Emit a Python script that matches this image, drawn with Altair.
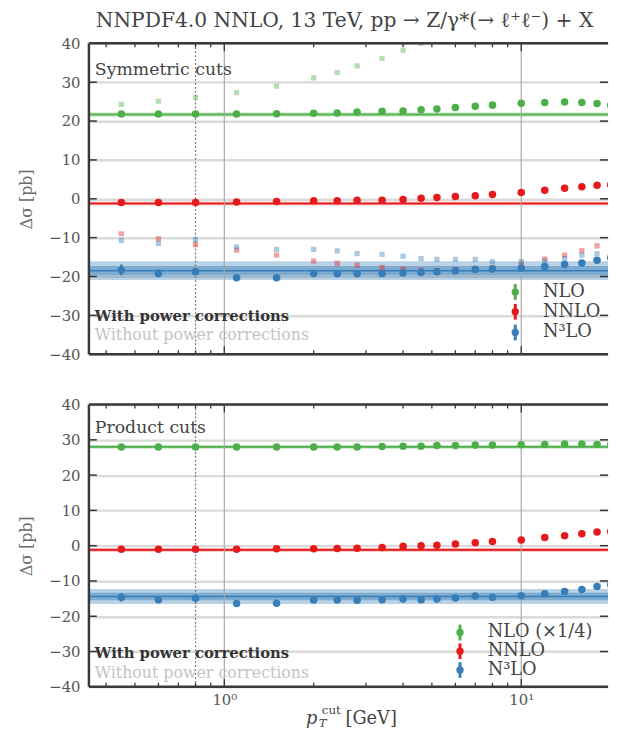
import altair as alt
import pandas as pd

# ---------------- data ----------------
PT = [0.45, 0.6, 0.8, 1.1, 1.5, 2, 2.4, 2.8, 3.4, 4, 4.6, 5.2, 6, 7, 8, 10, 12, 14, 16, 18, 20]

# Symmetric cuts (top panel), with power corrections
SYM_NLO = [21.8, 21.8, 21.8, 21.8, 21.9, 22.0, 22.1, 22.3, 22.5, 22.6, 22.9, 23.1, 23.5, 23.8, 24.1, 24.6, 24.8, 24.9, 24.8, 24.5, 24.1]
SYM_NNLO = [-0.95, -0.95, -0.95, -0.85, -0.7, -0.5, -0.5, -0.4, -0.35, -0.2, 0.15, 0.3, 0.6, 0.8, 1.1, 1.6, 2.2, 2.7, 3.1, 3.5, 3.6]
SYM_N3LO = [-18.3, -19.2, -18.8, -20.3, -20.3, -19.2, -19.3, -19.3, -19.2, -19.1, -19.0, -18.8, -18.5, -18.2, -18.1, -17.9, -17.4, -16.9, -16.5, -15.8, -15.2]
SYM_N3LO_ERR = [1.4, 1.0, 0.8, 0.6, 0.6, 0.5, 0.5, 0.5, 0.5, 0.5, 0.5, 0.5, 0.5, 0.5, 0.5, 0.6, 0.6, 0.7, 0.7, 0.8, 0.8]
# without power corrections
SYM_NLO_NOPC = [24.3, 25.1, 26.1, 27.3, 29.0, 31.1, 32.5, 34.2, 36.1, 38.2, 40.0]
SYM_NNLO_NOPC = [-9.0, -10.3, -11.8, -13.2, -14.5, -16.0, -16.6, -17.1, -17.7, -18.1, -18.4, -18.5, -18.2, -17.9, -17.7, -16.9, -15.5, -14.5, -13.4, -12.1, -11.3]
SYM_N3LO_NOPC = [-10.7, -11.5, -10.5, -12.4, -13.0, -13.0, -13.4, -14.1, -14.3, -14.8, -15.4, -15.6, -15.6, -15.6, -16.2, -16.2, -16.0, -15.4, -14.5, -14.1, -13.6]
# reference bands (centre, inner half-width, outer half-width)
SYM_BANDS = {"NLO": (21.7, 0.5, 0.5), "NNLO": (-1.2, 0.45, 0.45), "N3LO": (-18.5, 1.2, 2.4)}

# Product cuts (bottom panel)
PROD_NLO = [28.0, 28.0, 28.0, 28.0, 28.0, 28.0, 28.0, 28.0, 28.1, 28.2, 28.2, 28.4, 28.4, 28.5, 28.5, 28.6, 28.7, 28.8, 28.8, 28.7, 28.6]
PROD_NNLO = [-1.0, -1.0, -1.0, -1.0, -0.9, -0.9, -0.8, -0.7, -0.5, -0.2, 0.0, 0.15, 0.5, 0.8, 1.2, 1.6, 2.3, 2.8, 3.4, 3.9, 4.0]
PROD_N3LO = [-14.6, -15.3, -14.9, -16.4, -16.3, -15.4, -15.4, -15.5, -15.3, -15.1, -15.3, -15.1, -14.8, -14.3, -14.6, -14.2, -13.6, -13.0, -12.4, -11.6, -11.1]
PROD_N3LO_ERR = [1.2, 0.9, 0.8, 0.5, 0.5, 0.4, 0.4, 0.4, 0.4, 0.4, 0.4, 0.4, 0.4, 0.4, 0.4, 0.5, 0.5, 0.5, 0.6, 0.6, 0.6]
PROD_BANDS = {"NLO": (28.0, 0.45, 0.45), "NNLO": (-1.2, 0.45, 0.45), "N3LO": (-14.4, 1.05, 2.1)}

Y_TICKS = [-40, -30, -20, -10, 0, 10, 20, 30, 40]
X_MAJOR = [1, 10]
X_MINOR = [0.4, 0.5, 0.6, 0.7, 0.8, 0.9, 2, 3, 4, 5, 6, 7, 8, 9]
X_VLINES = [1, 10]
X_DOTTED = [0.8]

TITLE = "NNPDF4.0 NNLO, 13 TeV, pp \u2192 Z/\u03b3*(\u2192 \u2113\u207a\u2113\u207b) + X"
SYM_LEGEND = ["NLO", "NNLO", "N\u00b3LO"]
PROD_LEGEND = ["NLO (\u00d71/4)", "NNLO", "N\u00b3LO"]

# ---------------- style / layout ----------------
GREEN, RED, BLUE = "#4daf4a", "#e41a1c", "#377eb8"
COLORS = {"NLO": GREEN, "NNLO": RED, "N3LO": BLUE}
FONT = "DejaVu Serif"
TXT = "#444444"
W = 526
H_TOP = 315
GAP = 51
H_BOT = 286
Y0_BOT = H_TOP + GAP
H_ALL = Y0_BOT + H_BOT

XSCALE = alt.Scale(type="log", domain=[0.35, 19.6], nice=False)
XAXIS = alt.Axis(values=X_MAJOR, labelExpr="datum.value == 1 ? '10\u2070' : '10\u00b9'",
                 ticks=False, domain=False, grid=False, labelFont=FONT, labelFontSize=15,
                 labelColor="#555555", labelPadding=6, title=None)


def one(txt):
    return pd.DataFrame({"t": [txt]})


def panel(y0, H, nlo, nnlo, n3lo, n3err, bands, nopc, label, legend, leg_pos, pc_pos):
    yscale = alt.Scale(domain=[-40, 40], range=[y0 + H, y0], nice=False)
    yaxis = alt.Axis(values=Y_TICKS, orient="left", grid=True, gridColor="#dadada", gridWidth=2.4,
                     ticks=False, domain=False, labelFont=FONT, labelFontSize=15,
                     labelColor="#555555", labelPadding=9, title="\u0394\u03c3  [pb]",
                     titleFont=FONT, titleFontSize=16, titleFontWeight="normal",
                     titleColor="#6a6a6a", titlePadding=15)

    def X(f):
        return alt.X(f, type="quantitative", scale=XSCALE, axis=XAXIS)

    def Y(f):
        return alt.Y(f, type="quantitative", scale=yscale, axis=yaxis)

    layers = []
    # bands
    brows = []
    for k, (c, inner, outer) in bands.items():
        if outer > inner:
            brows.append({"lo": c - outer, "hi": c + outer, "c": COLORS[k], "o": 0.35})
        brows.append({"lo": c - inner, "hi": c + inner, "c": COLORS[k], "o": 0.45})
    bdf = pd.DataFrame(brows)
    layers.append(alt.Chart(bdf).mark_rect().encode(
        x=alt.value(0), x2=alt.value(W), y=Y("lo"), y2="hi",
        color=alt.Color("c:N", scale=None), opacity=alt.Opacity("o:Q", scale=None)))
    cdf = pd.DataFrame([{"y": v[0], "c": COLORS[k]} for k, v in bands.items()])
    layers.append(alt.Chart(cdf).mark_rule(strokeWidth=1.6).encode(
        x=alt.value(0), x2=alt.value(W), y=Y("y"), color=alt.Color("c:N", scale=None)))

    # vertical lines
    layers.append(alt.Chart(pd.DataFrame({"x": X_VLINES})).mark_rule(color="#a8a8a8", strokeWidth=1.2).encode(
        x=X("x"), y=alt.value(y0), y2=alt.value(y0 + H)))
    layers.append(alt.Chart(pd.DataFrame({"x": X_DOTTED})).mark_rule(color="#777777", strokeWidth=1.2,
                                                                   strokeDash=[2, 2]).encode(
        x=X("x"), y=alt.value(y0), y2=alt.value(y0 + H)))

    # without power corrections (light squares)
    for k, vals in nopc.items():
        df = pd.DataFrame({"x": PT[:len(vals)], "y": vals})
        layers.append(alt.Chart(df).mark_square(size=28, filled=True, opacity=0.42, color=COLORS[k],
                                                clip=True).encode(x=X("x"), y=Y("y")))

    # error bars on N3LO
    edf = pd.DataFrame({"x": PT, "lo": [v - e for v, e in zip(n3lo, n3err)],
                        "hi": [v + e for v, e in zip(n3lo, n3err)]})
    layers.append(alt.Chart(edf).mark_rule(color=BLUE, strokeWidth=2.5, clip=True).encode(
        x=X("x"), y=Y("lo"), y2="hi"))
    # with power corrections
    for k, vals in (("NLO", nlo), ("NNLO", nnlo), ("N3LO", n3lo)):
        df = pd.DataFrame({"x": PT, "y": vals})
        layers.append(alt.Chart(df).mark_circle(size=58, opacity=1, color=COLORS[k], clip=True).encode(
            x=X("x"), y=Y("y")))

    # inward ticks
    ydf = pd.DataFrame({"y": Y_TICKS[1:-1]})
    layers.append(alt.Chart(ydf).mark_rule(color="#333333", strokeWidth=1.5).encode(
        x=alt.value(0), x2=alt.value(8), y=Y("y")))
    layers.append(alt.Chart(ydf).mark_rule(color="#333333", strokeWidth=1.5).encode(
        x=alt.value(W - 8), x2=alt.value(W), y=Y("y")))
    for vals, L in ((X_MAJOR, 8), (X_MINOR, 4)):
        xdf = pd.DataFrame({"x": vals})
        layers.append(alt.Chart(xdf).mark_rule(color="#333333", strokeWidth=1.3).encode(
            x=X("x"), y=alt.value(y0), y2=alt.value(y0 + L)))
        layers.append(alt.Chart(xdf).mark_rule(color="#333333", strokeWidth=1.3).encode(
            x=X("x"), y=alt.value(y0 + H - L), y2=alt.value(y0 + H)))

    # frame (left, top, bottom)
    fdf = one("")
    layers.append(alt.Chart(fdf).mark_rule(color="#3a3a3a", strokeWidth=2.5).encode(
        x=alt.value(0), y=alt.value(y0), y2=alt.value(y0 + H)))
    layers.append(alt.Chart(fdf).mark_rule(color="#3a3a3a", strokeWidth=2.5).encode(
        x=alt.value(0), x2=alt.value(W), y=alt.value(y0)))
    layers.append(alt.Chart(fdf).mark_rule(color="#3a3a3a", strokeWidth=2.5).encode(
        x=alt.value(0), x2=alt.value(W), y=alt.value(y0 + H)))

    # annotations
    layers.append(alt.Chart(one(label)).mark_text(font=FONT, fontSize=17.5, color=TXT, align="left",
                                                  baseline="middle").encode(
        text="t:N", x=alt.value(6), y=alt.value(y0 + pc_pos[0])))
    layers.append(alt.Chart(one("With power corrections")).mark_text(
        font=FONT, fontSize=15, color="#333333", fontWeight="bold", align="left", baseline="middle").encode(
        text="t:N", x=alt.value(6), y=alt.value(y0 + pc_pos[1])))
    layers.append(alt.Chart(one("Without power corrections")).mark_text(
        font=FONT, fontSize=16, color="#c4c4c4", align="left", baseline="middle").encode(
        text="t:N", x=alt.value(6), y=alt.value(y0 + pc_pos[2])))

    # legend
    mx, tx, ys = leg_pos
    for lab, k, cy in zip(legend, ("NLO", "NNLO", "N3LO"), ys):
        d = one(lab)
        cy = y0 + cy
        layers.append(alt.Chart(d).mark_rule(color=COLORS[k], strokeWidth=3).encode(
            x=alt.value(mx), y=alt.value(cy - 8), y2=alt.value(cy + 8)))
        layers.append(alt.Chart(d).mark_circle(color=COLORS[k], size=55, opacity=1).encode(
            x=alt.value(mx), y=alt.value(cy)))
        layers.append(alt.Chart(d).mark_text(font=FONT, fontSize=18, color=TXT, align="left",
                                            baseline="middle").encode(
            text="t:N", x=alt.value(tx), y=alt.value(cy)))
    return alt.layer(*layers)


top = panel(0, H_TOP, SYM_NLO, SYM_NNLO, SYM_N3LO, SYM_N3LO_ERR, SYM_BANDS,
            {"NLO": SYM_NLO_NOPC, "NNLO": SYM_NNLO_NOPC, "N3LO": SYM_N3LO_NOPC},
            "Symmetric cuts", SYM_LEGEND, (432, 460, (252, 272, 293)), (27, 276, 296))
bot = panel(Y0_BOT, H_BOT, PROD_NLO, PROD_NNLO, PROD_N3LO, PROD_N3LO_ERR, PROD_BANDS, {},
            "Product cuts", PROD_LEGEND, (376, 404, (231, 250, 269)), (24, 252, 272))

# title and x-axis title
extra = [alt.Chart(one(TITLE)).mark_text(font=FONT, fontSize=20.5, color=TXT, baseline="middle").encode(
    text="t:N", x=alt.value(259), y=alt.value(-23))]
for txt, xx, yy, fs, st in (("p", 220, H_ALL + 33, 18, "italic"), ("cut", 236, H_ALL + 24, 12, "normal"),
                            ("T", 233, H_ALL + 37, 12, "italic"), ("[GeV]", 260, H_ALL + 33, 18, "normal")):
    extra.append(alt.Chart(one(txt)).mark_text(font=FONT, fontSize=fs, fontStyle=st, color=TXT,
                                               align="left", baseline="middle").encode(
        text="t:N", x=alt.value(xx), y=alt.value(yy)))

chart = alt.layer(top, bot, *extra).resolve_scale(y="independent").properties(
    width=W, height=H_ALL,
    autosize=alt.AutoSizeParams(type="none"),
    padding={"left": 82, "top": 31, "right": 2, "bottom": 42}
).configure_view(stroke=None)

chart.save("out.html", embed_options={"renderer": "svg", "actions": False})
